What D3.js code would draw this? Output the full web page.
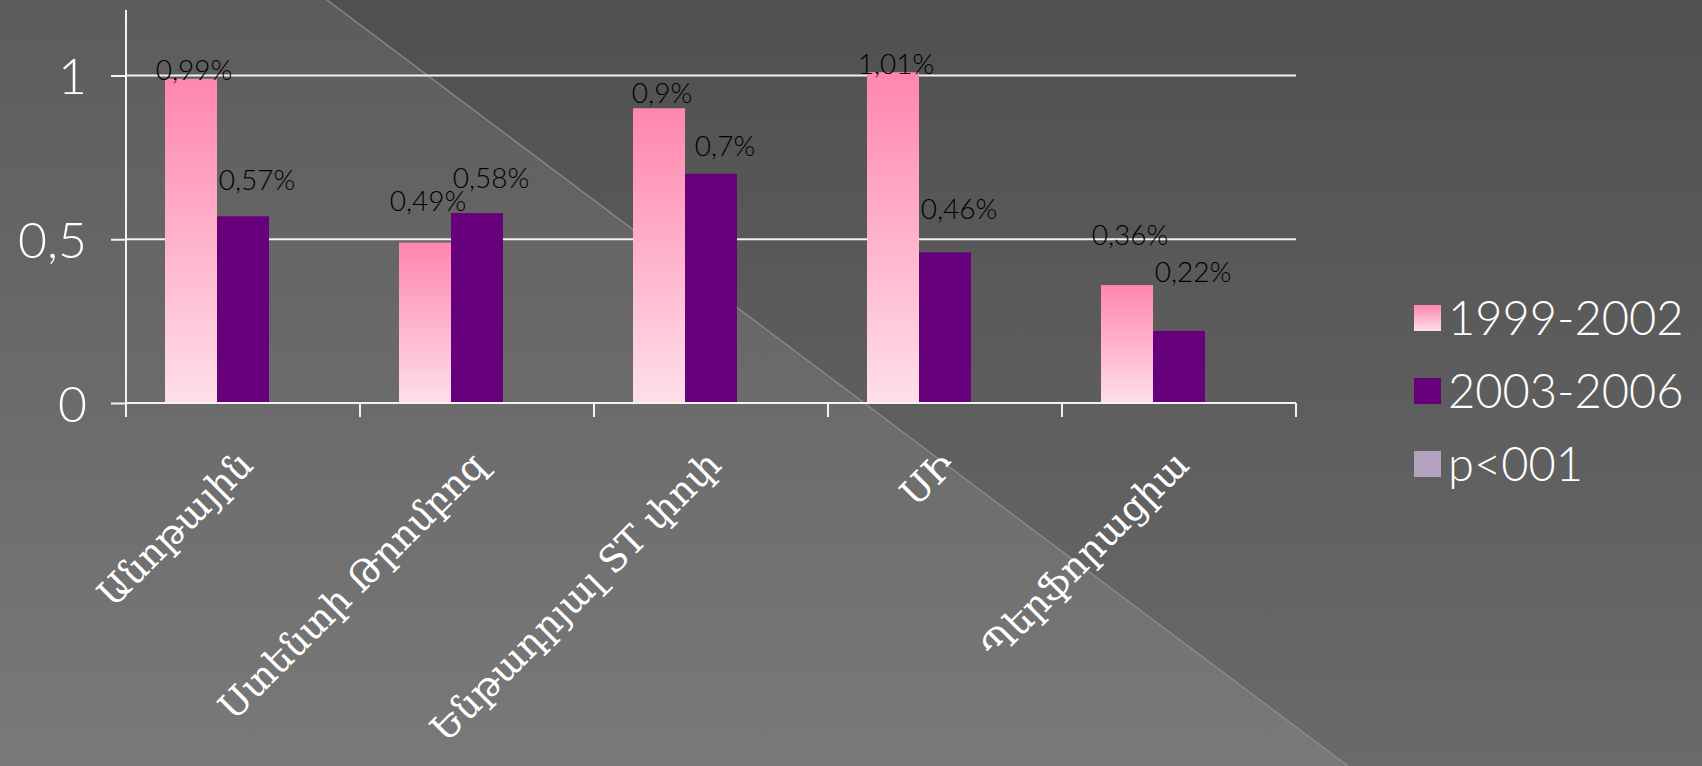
<!DOCTYPE html>
<html>
<head>
<meta charset="utf-8">
<script src="https://cdn.jsdelivr.net/npm/d3@7"></script>
<style>
  html, body { margin: 0; padding: 0; background: #5e5e5e; overflow: hidden; }
  svg { display: block; }
</style>
</head>
<body>
<svg id="chart" width="1702" height="766"></svg>
<script>
// ---- data ----
const categories = ["Անոթային", "Ստենտի Թրոմբոզ", "Ենթադրյալ ST փոփ", "ՍԻ", "Պերֆորացիա"];
const seriesNames = ["1999-2002", "2003-2006", "p<001"];
const values1999 = [0.99, 0.49, 0.90, 1.01, 0.36];
const values2003 = [0.57, 0.58, 0.70, 0.46, 0.22];
const valuesP = [null, null, null, null, null];
const yTicks = [0, 0.5, 1];

const W = 1702, H = 766;
const svg = d3.select("#chart");
const defs = svg.append("defs");

// background gradients
const gL = defs.append("linearGradient").attr("id", "bgL").attr("x1", 0).attr("y1", 0).attr("x2", 0).attr("y2", 1);
gL.append("stop").attr("offset", "0%").attr("stop-color", "#5c5c5c");
gL.append("stop").attr("offset", "100%").attr("stop-color", "#797979");
const gR = defs.append("linearGradient").attr("id", "bgR").attr("x1", 0).attr("y1", 0).attr("x2", 0).attr("y2", 1);
gR.append("stop").attr("offset", "0%").attr("stop-color", "#505050");
gR.append("stop").attr("offset", "100%").attr("stop-color", "#6a6a6a");
const gP = defs.append("linearGradient").attr("id", "pinkGrad").attr("x1", 0).attr("y1", 0).attr("x2", 0).attr("y2", 1);
gP.append("stop").attr("offset", "0%").attr("stop-color", "#ff86ae");
gP.append("stop").attr("offset", "100%").attr("stop-color", "#ffdfe8");

const bg = svg.append("g");
bg.append("rect").attr("width", W).attr("height", H).attr("fill", "url(#bgR)");
bg.append("path").attr("d", "M0,0 L327,0 L1348,766 L0,766 Z").attr("fill", "url(#bgL)");
bg.append("line").attr("x1", 327).attr("y1", 0).attr("x2", 1348).attr("y2", 766)
  .attr("stroke", "#8e8e8e").attr("stroke-width", 1.2);

// ---- scales ----
const plot = { left: 126, right: 1296, top: 10, bottom: 403 };
const x0 = d3.scaleBand().domain(categories).range([plot.left, plot.right]).paddingInner(0).paddingOuter(0);
const x1 = d3.scaleBand().domain(seriesNames).range([0, x0.bandwidth()]).paddingInner(0).paddingOuter(0.75);
const y = d3.scaleLinear().domain([0, 1.2]).range([plot.bottom, plot.top]);
// data labels in the reference sit on their own (shifted) value scale
const yLabel = d3.scaleLinear().domain([0, 1]).range([330, 67]);

const axisColor = "#f2f2f2";
const numFont = "Lato, 'DejaVu Sans', sans-serif";

// gridlines
svg.append("g").selectAll("line").data(yTicks.filter(d => d > 0)).join("line")
  .attr("x1", plot.left).attr("x2", plot.right)
  .attr("y1", d => y(d)).attr("y2", d => y(d))
  .attr("stroke", axisColor).attr("stroke-width", 2);

// bars
const seriesData = [values1999, values2003, valuesP];
const fills = ["url(#pinkGrad)", "#66007b", "#b3a2c0"];
const barG = svg.append("g");
seriesData.forEach((vals, si) => {
  barG.append("g").selectAll("rect")
    .data(vals.map((v, i) => ({ v, c: categories[i] })).filter(d => d.v != null))
    .join("rect")
    .attr("x", d => x0(d.c) + x1(seriesNames[si]))
    .attr("width", x1.bandwidth())
    .attr("y", d => y(d.v))
    .attr("height", d => y(0) - y(d.v))
    .attr("fill", fills[si]);
});

// x axis
const xAxis = d3.axisBottom(x0).tickSize(0).tickFormat("");
const xg = svg.append("g").attr("transform", `translate(0,${plot.bottom})`).call(xAxis);
xg.select(".domain").attr("stroke", axisColor).attr("stroke-width", 2).attr("d", `M${plot.left},0H${plot.right}`);
const bounds = categories.map(c => x0(c)).concat([plot.right]);
xg.selectAll(".bnd").data(bounds).join("line").attr("class", "bnd")
  .attr("x1", d => d).attr("x2", d => d).attr("y1", 0).attr("y2", 14)
  .attr("stroke", axisColor).attr("stroke-width", 2);

// y axis
const yAxis = d3.axisLeft(y).tickValues(yTicks).tickSize(15).tickPadding(24)
  .tickFormat(d => String(d).replace(".", ","));
const yg = svg.append("g").attr("transform", `translate(${plot.left},0)`).call(yAxis);
yg.select(".domain").attr("stroke", axisColor).attr("stroke-width", 2).attr("d", `M0,${plot.top}V${plot.bottom + 14}`);
yg.selectAll(".tick line").attr("stroke", axisColor).attr("stroke-width", 2);
yg.selectAll(".tick text").attr("fill", "#ffffff").attr("font-size", 50)
  .attr("font-family", numFont).attr("font-weight", 300).attr("dy", "0.36em");

// category labels
svg.append("g").selectAll("text").data(categories).join("text")
  .attr("transform", d => `translate(${x0(d) + x0.bandwidth() / 2 + 12},${plot.bottom + 64}) rotate(-45)`)
  .attr("text-anchor", "end")
  .attr("fill", "#ffffff")
  .attr("font-family", "'DejaVu Serif', serif")
  .attr("font-size", 37)
  .text(d => d);

// data labels
const fmt = v => String(v).replace(".", ",") + "%";
const labelDx = [3, 14];
[values1999, values2003].forEach((vals, si) => {
  svg.append("g").selectAll("text")
    .data(vals.map((v, i) => ({ v, c: categories[i] })))
    .join("text")
    .attr("x", d => x0(d.c) + x1(seriesNames[si]) + x1.bandwidth() / 2 + labelDx[si])
    .attr("y", d => yLabel(d.v))
    .attr("dy", "0.36em")
    .attr("text-anchor", "middle")
    .attr("fill", "#000000")
    .attr("font-family", numFont)
    .attr("font-weight", 300)
    .attr("font-size", 28)
    .text(d => fmt(d.v));
});

// legend
const legend = svg.append("g").attr("transform", "translate(1414,305)");
const li = legend.selectAll("g").data(seriesNames).join("g")
  .attr("transform", (d, i) => `translate(0,${i * 73})`);
li.append("rect").attr("width", 27).attr("height", 26).attr("fill", (d, i) => fills[i]);
li.append("text").attr("x", 34).attr("y", 13).attr("dy", "0.36em")
  .attr("fill", "#ffffff").attr("font-family", numFont).attr("font-weight", 300)
  .attr("font-size", 47).text(d => d);
</script>
</body>
</html>
